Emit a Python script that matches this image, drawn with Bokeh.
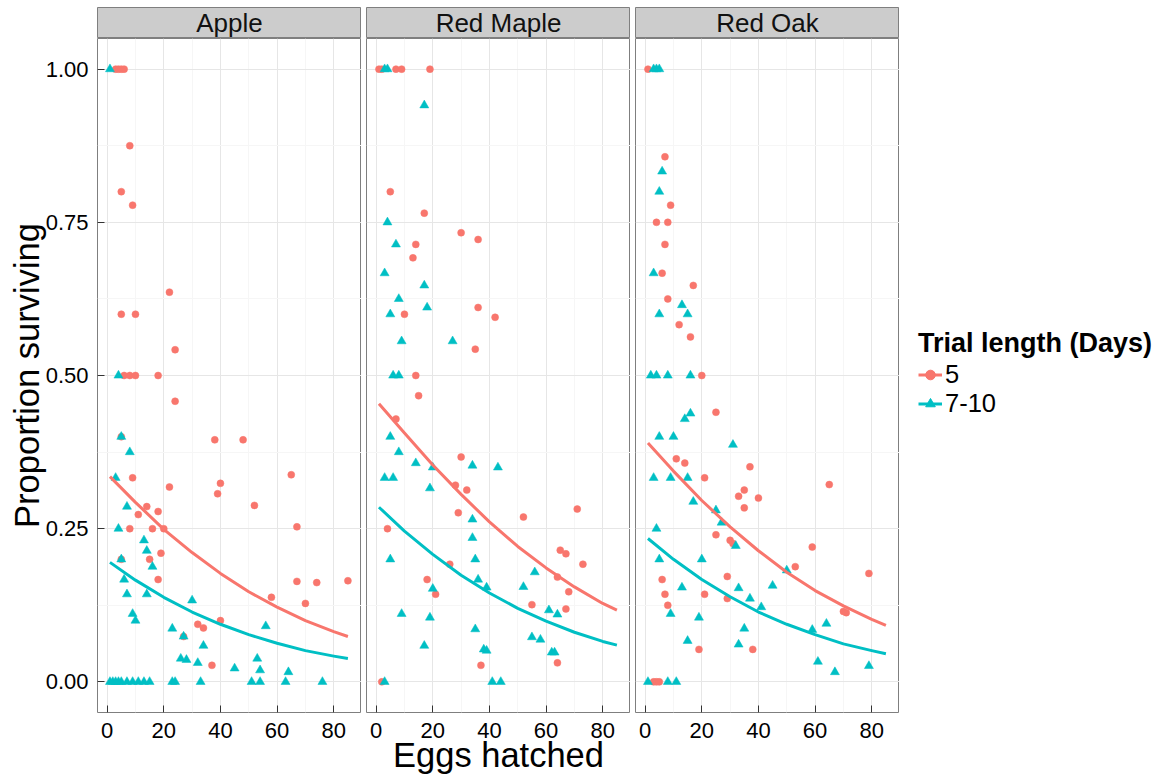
from bokeh.plotting import figure
from bokeh.layouts import row, column
from bokeh.models import FixedTicker, Range1d, Label, Legend, LegendItem
from bokeh.embed import file_html
from bokeh.resources import INLINE

FONT = "Liberation Sans"
RED = "#F8766D"
TEAL = "#00BFC4"
NAN = float("nan")

facets = ["Apple", "Red Maple", "Red Oak"]
groups = ["5", "7-10"]
legend_title = "Trial length (Days)"
x_title = "Eggs hatched"
y_title = "Proportion surviving"

x_ticks = [0, 20, 40, 60, 80]
x_tick_labels = ["0", "20", "40", "60", "80"]
x_minor = [10, 30, 50, 70]
y_ticks = [0.0, 0.25, 0.5, 0.75, 1.0]
y_tick_labels = ["0.00", "0.25", "0.50", "0.75", "1.00"]
y_minor = [0.125, 0.375, 0.625, 0.875]

# ---- Apple ----
apple_x5 = [3, 4, 5, 6, 8, 5, 9, 22, 5, 10, 24, 6, 8, 10, 18, 24, 5, 9, 22, 38, 48, 40, 39, 65, 52,
            14, 11, 18, 67, 8, 16, 20, 19, 5, 15, 18, 67, 74, 85, 58, 70, 40, 32, 34, 27, 37]
apple_y5 = [1.0, 1.0, 1.0, 1.0, 0.875, 0.8, 0.778, 0.636, 0.6, 0.6, 0.542, 0.5, 0.5, 0.5, 0.5, 0.458,
            0.4, 0.333, 0.318, 0.395, 0.395, 0.324, 0.307, 0.338, 0.288, 0.286, 0.273, 0.278, 0.253,
            0.25, 0.25, 0.25, 0.21, 0.2, 0.2, 0.167, 0.164, 0.162, 0.165, 0.138, 0.128, 0.1, 0.094,
            0.088, 0.074, 0.027]
apple_x7 = [1, 4, 5, 8, 3, 7, 4, 13, 14, 5, 16, 6, 7, 14, 30, 9, 10, 23, 56, 27, 34, 26, 28, 32, 45,
            53, 54, 64, 1, 2, 3, 4, 5, 7, 9, 11, 13, 15, 23, 24, 33, 51, 54, 63, 76]
apple_y7 = [1.0, 0.5, 0.4, 0.375, 0.333, 0.286, 0.25, 0.231, 0.214, 0.2, 0.188, 0.167, 0.143, 0.143,
            0.133, 0.111, 0.1, 0.087, 0.091, 0.074, 0.059, 0.038, 0.036, 0.031, 0.022, 0.038, 0.019,
            0.016, 0, 0, 0, 0, 0, 0, 0, 0, 0, 0, 0, 0, 0, 0, 0, 0, 0]

# ---- Red Maple ----
maple_x5 = [1, 2, 7, 9, 19, 5, 17, 30, 36, 14, 13, 36, 10, 42, 35, 14, 15, 7, 30, 28, 32, 29, 52, 71,
            4, 65, 67, 26, 73, 64, 18, 21, 68, 55, 67, 64, 37, 2]
maple_y5 = [1.0, 1.0, 1.0, 1.0, 1.0, 0.8, 0.765, 0.733, 0.722, 0.714, 0.692, 0.611, 0.6, 0.595, 0.543,
            0.5, 0.467, 0.429, 0.367, 0.321, 0.313, 0.276, 0.269, 0.282, 0.25, 0.215, 0.209, 0.192,
            0.192, 0.171, 0.167, 0.143, 0.147, 0.126, 0.119, 0.031, 0.027, 0]
maple_x7 = [3, 4, 17, 4, 7, 3, 17, 8, 18, 5, 9, 27, 6, 8, 5, 8, 14, 20, 34, 43, 3, 6, 19, 34, 34, 5,
            35, 56, 36, 20, 39, 52, 61, 64, 9, 19, 35, 55, 58, 17, 38, 39, 62, 63, 3, 41, 44]
maple_y7 = [1.0, 1.0, 0.941, 0.75, 0.714, 0.667, 0.647, 0.625, 0.611, 0.6, 0.556, 0.556, 0.5, 0.5, 0.4,
            0.375, 0.357, 0.35, 0.353, 0.35, 0.333, 0.333, 0.316, 0.265, 0.235, 0.2, 0.2, 0.179, 0.167,
            0.152, 0.154, 0.155, 0.117, 0.11, 0.111, 0.105, 0.086, 0.073, 0.069, 0.059, 0.053, 0.051,
            0.048, 0.048, 0, 0, 0]

# ---- Red Oak ----
oak_x5 = [1, 7, 9, 4, 8, 7, 6, 17, 8, 12, 16, 20, 25, 11, 14, 37, 21, 65, 35, 33, 40, 35, 25, 30, 31,
          59, 53, 79, 6, 29, 7, 21, 29, 8, 70, 71, 19, 38, 3, 4, 5]
oak_y5 = [1.0, 0.857, 0.778, 0.75, 0.75, 0.714, 0.667, 0.647, 0.625, 0.583, 0.563, 0.5, 0.44, 0.364,
          0.357, 0.351, 0.333, 0.322, 0.313, 0.303, 0.3, 0.284, 0.24, 0.231, 0.226, 0.22, 0.188, 0.177,
          0.167, 0.172, 0.143, 0.143, 0.136, 0.125, 0.115, 0.113, 0.053, 0.053, 0, 0, 0]
oak_x7 = [3, 4, 5, 6, 5, 3, 13, 5, 15, 2, 4, 8, 16, 14, 16, 5, 10, 31, 3, 9, 15, 17, 25, 4, 27, 32, 5,
          20, 50, 13, 33, 45, 37, 41, 9, 19, 64, 59, 35, 15, 33, 61, 67, 79, 1, 8, 11]
oak_y7 = [1.0, 1.0, 1.0, 0.833, 0.8, 0.667, 0.615, 0.6, 0.6, 0.5, 0.5, 0.5, 0.5, 0.429, 0.438, 0.4, 0.4,
          0.387, 0.333, 0.333, 0.333, 0.294, 0.28, 0.25, 0.26, 0.222, 0.2, 0.2, 0.182, 0.154, 0.153,
          0.157, 0.136, 0.122, 0.111, 0.105, 0.095, 0.085, 0.087, 0.067, 0.061, 0.033, 0.016, 0.026,
          0, 0, 0]

# ---- fitted curves ----
fit_x = [1, 10, 20, 30, 40, 50, 60, 70, 80, 85]
apple_fit5 = [0.335, 0.293, 0.249, 0.211, 0.177, 0.147, 0.122, 0.100, 0.082, 0.074]
apple_fit7 = [0.195, 0.166, 0.138, 0.114, 0.094, 0.077, 0.063, 0.051, 0.042, 0.038]
maple_fit5 = [0.454, 0.406, 0.354, 0.306, 0.261, 0.221, 0.186, 0.155, 0.128, 0.117]
maple_fit7 = [0.285, 0.246, 0.208, 0.174, 0.145, 0.120, 0.099, 0.081, 0.066, 0.060]
oak_fit5 = [0.390, 0.344, 0.296, 0.253, 0.214, 0.179, 0.149, 0.124, 0.102, 0.092]
oak_fit7 = [0.234, 0.200, 0.167, 0.139, 0.114, 0.094, 0.077, 0.062, 0.051, 0.046]

panel_data = [
    (apple_x5, apple_y5, apple_x7, apple_y7, apple_fit5, apple_fit7),
    (maple_x5, maple_y5, maple_x7, maple_y7, maple_fit5, maple_fit7),
    (oak_x5, oak_y5, oak_x7, oak_y7, oak_fit5, oak_fit7),
]

X_RANGE = (-3.4, 89.8)
Y_RANGE = (-0.05, 1.05)
FRAME_W = 264
FRAME_H = 674
BOTTOM = 70
STRIP_TOP = 7
STRIP_H = 31
LEGEND_W = 265
TOTAL_H = STRIP_TOP + STRIP_H + FRAME_H + BOTTOM


def style_axis(ax):
    ax.axis_line_color = None
    ax.major_tick_in = 7
    ax.major_tick_out = 0
    ax.major_tick_line_color = "#333333"
    ax.minor_tick_line_color = None
    ax.major_label_text_font = FONT
    ax.major_label_text_font_size = "22px"
    ax.major_label_text_color = "#000000"
    ax.axis_label_text_font = FONT
    ax.axis_label_text_font_size = "34.5px"
    ax.axis_label_text_font_style = "normal"
    ax.axis_label_text_color = "#000000"


columns = []
for i, name in enumerate(facets):
    x5, y5, x7, y7, f5, f7 = panel_data[i]
    left = 97 if i == 0 else 5
    w = left + FRAME_W

    s = figure(width=w, height=STRIP_TOP + STRIP_H, x_range=Range1d(0, 1),
               y_range=Range1d(0, 1), x_axis_location=None, y_axis_location=None,
               output_backend="svg", toolbar_location=None, min_border_left=left,
               min_border_right=0, min_border_top=STRIP_TOP, min_border_bottom=0)
    s.background_fill_color = "#CCCCCC"
    s.border_fill_color = "white"
    s.outline_line_color = "#7F7F7F"
    s.xgrid.visible = False
    s.ygrid.visible = False
    s.add_layout(Label(x=0.5, y=0.5, text=name, text_align="center", text_baseline="middle",
                       text_font=FONT, text_font_size="26px", text_color="#111111"))

    p = figure(width=w, height=FRAME_H + BOTTOM, x_range=Range1d(*X_RANGE),
               y_range=Range1d(*Y_RANGE), y_axis_location="left" if i == 0 else None,
               output_backend="svg", toolbar_location=None, min_border_left=left,
               min_border_right=0, min_border_top=0, min_border_bottom=BOTTOM)
    p.background_fill_color = "white"
    p.border_fill_color = "white"
    p.outline_line_color = "#7F7F7F"
    p.outline_line_width = 1

    p.xgrid.ticker = FixedTicker(ticks=x_ticks, minor_ticks=x_minor)
    p.ygrid.ticker = FixedTicker(ticks=y_ticks, minor_ticks=y_minor)
    p.grid.grid_line_color = "#E6E6E6"
    p.grid.minor_grid_line_color = "#F6F6F6"

    p.xaxis.ticker = FixedTicker(ticks=x_ticks)
    p.xaxis.major_label_overrides = dict(zip(x_ticks, x_tick_labels))
    style_axis(p.xaxis[0])
    p.xaxis.major_label_standoff = 10
    if i == 1:
        p.xaxis.axis_label = x_title
        p.xaxis.axis_label_standoff = -5
    if i == 0:
        p.yaxis.ticker = FixedTicker(ticks=y_ticks)
        p.yaxis.major_label_overrides = dict(zip(y_ticks, y_tick_labels))
        style_axis(p.yaxis[0])
        p.yaxis.major_label_standoff = 9
        p.yaxis.axis_label = y_title
        p.yaxis.axis_label_standoff = -3

    p.scatter(x5, y5, marker="circle", size=7, fill_color=RED, line_color=RED, line_width=0.5)
    p.scatter(x7, y7, marker="triangle", size=9, fill_color=TEAL, line_color=TEAL, line_width=0.5)
    p.line(fit_x, f5, line_color=RED, line_width=3, line_join="round")
    p.line(fit_x, f7, line_color=TEAL, line_width=3, line_join="round")

    columns.append(column(s, p, spacing=0))

# legend figure (its key renderers hold no visible data)
lf = figure(width=LEGEND_W, height=TOTAL_H, x_range=Range1d(0, 1), y_range=Range1d(0, 1),
            x_axis_location=None, y_axis_location=None, output_backend="svg",
            toolbar_location=None, min_border_left=0, min_border_right=0,
            min_border_top=0, min_border_bottom=0)
lf.outline_line_color = None
lf.background_fill_color = "white"
lf.border_fill_color = "white"
lf.xgrid.visible = False
lf.ygrid.visible = False
k_l5 = lf.line([NAN], [NAN], line_color=RED, line_width=3)
k_p5 = lf.scatter([NAN], [NAN], marker="circle", size=7, fill_color=RED, line_color=RED)
k_l7 = lf.line([NAN], [NAN], line_color=TEAL, line_width=3)
k_p7 = lf.scatter([NAN], [NAN], marker="triangle", size=9, fill_color=TEAL, line_color=TEAL)
legend = Legend(items=[LegendItem(label=groups[0], renderers=[k_l5, k_p5]),
                       LegendItem(label=groups[1], renderers=[k_l7, k_p7])],
                location=(19, TOTAL_H - 418), title=legend_title,
                title_text_font=FONT, title_text_font_style="bold",
                title_text_font_size="27px", title_text_color="#000000",
                title_standoff=1,
                label_text_font=FONT, label_text_font_size="25.5px",
                label_text_color="#000000",
                glyph_width=24, glyph_height=25, label_standoff=3, spacing=0,
                padding=0, margin=0, border_line_color=None, background_fill_alpha=0)
lf.add_layout(legend)

layout = row(*columns, lf, spacing=0)
open("out.html", "w").write(file_html(layout, INLINE))
